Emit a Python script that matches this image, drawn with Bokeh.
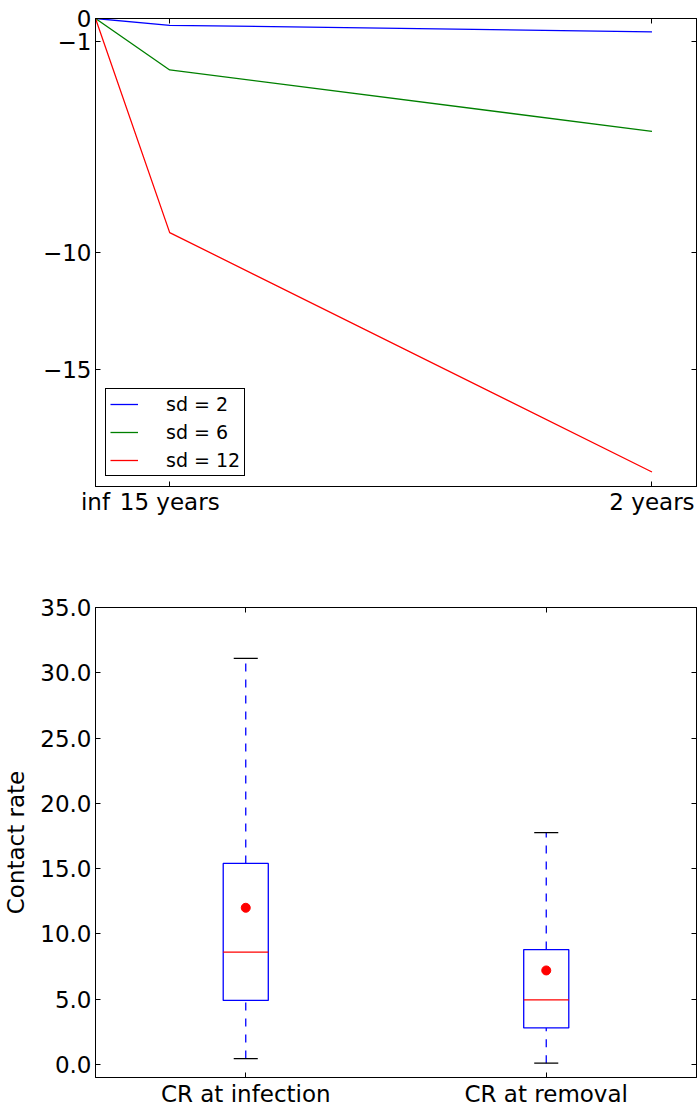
from bokeh.plotting import figure
from bokeh.layouts import column
from bokeh.models import (FixedTicker, LinearAxis, Range1d, Legend, LegendItem,
                          NumeralTickFormatter, CustomJSTickFormatter)
from bokeh.embed import file_html
from bokeh.resources import INLINE

# ---------------- data ----------------
period_labels = ["inf", "15 years", "2 years"]
inv_period = [0.0, 1 / 15, 1 / 2]          # 1 / years
sd2 = [0.0, -0.29, -0.57]
sd6 = [0.0, -2.20, -4.82]
sd12 = [0.0, -9.15, -19.38]
series_names = ["sd = 2", "sd = 6", "sd = 12"]
top_y_ticks = [0, -1, -10, -15]

box_labels = ["CR at infection", "CR at removal"]
box_pos = [1, 2]
whisker_low = [0.45, 0.10]
q1 = [4.9, 2.8]
median = [8.6, 4.95]
q3 = [15.4, 8.8]
whisker_high = [31.1, 17.75]
mean = [12.0, 7.2]
bottom_y_ticks = [0, 5, 10, 15, 20, 25, 30, 35]

FONT = "DejaVu Sans"
TICK_FS = "23px"


def style_axis(ax):
    ax.axis_line_color = "black"
    ax.axis_line_width = 1
    ax.major_tick_in = 5
    ax.major_tick_out = 0
    ax.minor_tick_in = 0
    ax.minor_tick_out = 0
    ax.major_tick_line_color = "black"
    ax.major_label_text_font = FONT
    ax.major_label_text_font_size = TICK_FS
    ax.major_label_text_color = "black"
    ax.major_label_standoff = 4


def mirror(p, xticker, yticker):
    ra = LinearAxis(ticker=yticker)
    style_axis(ra)
    ra.major_label_text_font_size = "0px"
    ra.major_label_standoff = 0
    ra.formatter = CustomJSTickFormatter(code="return ''")
    p.add_layout(ra, "right")
    ta = LinearAxis(ticker=xticker)
    style_axis(ta)
    ta.major_label_text_font_size = "0px"
    ta.major_label_standoff = 0
    ta.formatter = CustomJSTickFormatter(code="return ''")
    p.add_layout(ta, "above")


# ---------------- top plot ----------------
p1 = figure(width=698, height=550, x_range=Range1d(0, 0.54), y_range=Range1d(-20, 0),
            output_backend="svg", toolbar_location=None,
            min_border_left=94, min_border_right=2, min_border_top=18, min_border_bottom=64)
p1.grid.visible = False
p1.outline_line_color = "black"
p1.outline_line_width = 1

xt1 = FixedTicker(ticks=inv_period)
yt1 = FixedTicker(ticks=top_y_ticks)
style_axis(p1.xaxis[0])
style_axis(p1.yaxis[0])
p1.xaxis[0].major_label_standoff = 2
p1.xaxis[0].ticker = xt1
p1.yaxis[0].ticker = yt1
p1.xaxis[0].formatter = CustomJSTickFormatter(
    args=dict(tick_vals=inv_period, tick_names=period_labels),
    code="""
    let best = 0;
    for (let i = 0; i < tick_vals.length; i++) {
        if (Math.abs(tick_vals[i] - tick) < Math.abs(tick_vals[best] - tick)) best = i;
    }
    return tick_names[best];
    """)
p1.yaxis[0].formatter = CustomJSTickFormatter(
    code="return tick < 0 ? '\u2212' + Math.abs(tick) : String(tick);")
mirror(p1, xt1, yt1)

colors = ["#0000ff", "#008000", "#ff0000"]
items = []
for ys, c, name in zip([sd2, sd6, sd12], colors, series_names):
    r = p1.line(inv_period, ys, line_color=c, line_width=1.3)
    items.append(LegendItem(label=name, renderers=[r]))

legend = Legend(items=items, location="bottom_left")
legend.label_text_font = FONT
legend.label_text_font_size = "19px"
legend.label_text_color = "black"
legend.border_line_color = "black"
legend.border_line_width = 1
legend.border_line_alpha = 1
legend.background_fill_color = "white"
legend.background_fill_alpha = 1
legend.padding = 4
legend.spacing = 6
legend.glyph_width = 28
legend.glyph_height = 22
legend.label_height = 22
legend.label_standoff = 28
legend.margin = 10
p1.add_layout(legend)

# ---------------- bottom plot ----------------
p2 = figure(width=698, height=559, x_range=Range1d(0.5, 2.5), y_range=Range1d(-1.0, 35),
            output_backend="svg", toolbar_location=None,
            min_border_left=94, min_border_right=2, min_border_top=57, min_border_bottom=31)
p2.grid.visible = False
p2.outline_line_color = "black"
p2.outline_line_width = 1

xt2 = FixedTicker(ticks=box_pos)
yt2 = FixedTicker(ticks=bottom_y_ticks)
style_axis(p2.xaxis[0])
style_axis(p2.yaxis[0])
p2.xaxis[0].major_label_standoff = 3
p2.xaxis[0].ticker = xt2
p2.yaxis[0].ticker = yt2
p2.xaxis[0].formatter = CustomJSTickFormatter(
    args=dict(box_names=box_labels),
    code="return box_names[Math.round(tick) - 1];")
p2.yaxis[0].formatter = NumeralTickFormatter(format="0.0")
p2.yaxis[0].axis_label = "Contact rate"
p2.yaxis[0].axis_label_text_font = FONT
p2.yaxis[0].axis_label_text_font_size = "23px"
p2.yaxis[0].axis_label_text_font_style = "normal"
p2.yaxis[0].axis_label_text_color = "black"
p2.yaxis[0].axis_label_standoff = 8
mirror(p2, xt2, yt2)

half_box = 0.075
half_cap = 0.04
left = [x - half_box for x in box_pos]
right = [x + half_box for x in box_pos]
cap_l = [x - half_cap for x in box_pos]
cap_r = [x + half_cap for x in box_pos]

# whiskers
p2.segment(box_pos, q3, box_pos, whisker_high, line_color="#0000ff", line_width=1.3,
           line_dash="8 8")
p2.segment(box_pos, whisker_low, box_pos, q1, line_color="#0000ff", line_width=1.3,
           line_dash="8 8")
# caps
p2.segment(cap_l, whisker_high, cap_r, whisker_high, line_color="black", line_width=1.3)
p2.segment(cap_l, whisker_low, cap_r, whisker_low, line_color="black", line_width=1.3)
# boxes
p2.quad(left=left, right=right, bottom=q1, top=q3, fill_color=None,
        line_color="#0000ff", line_width=1.3)
# medians
p2.segment(left, median, right, median, line_color="#ff0000", line_width=1.3)
# means
p2.scatter(box_pos, mean, size=9, fill_color="#ff0000", line_color="#ff0000")

layout = column(p1, p2)

open("out.html", "w").write(file_html(layout, INLINE))
